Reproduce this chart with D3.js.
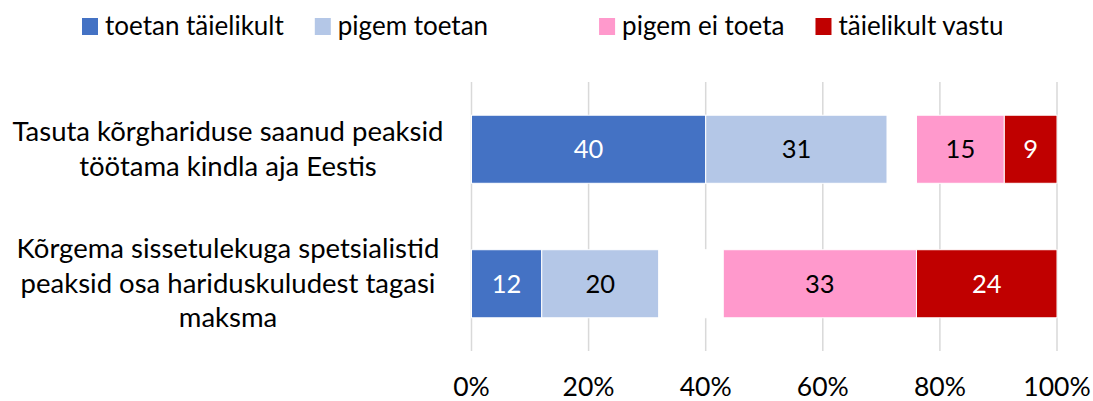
<!DOCTYPE html>
<html>
<head>
<meta charset="utf-8">
<script src="https://cdn.jsdelivr.net/npm/d3@7"></script>
<style>
  body { margin: 0; background: #fff; }
  text { font-family: Lato, "Open Sans", sans-serif; }
</style>
</head>
<body>
<svg id="chart" width="1093" height="401"></svg>
<script>
// data
var categories = [
  "Tasuta kõrghariduse saanud peaksid|töötama kindla aja Eestis",
  "Kõrgema sissetulekuga spetsialistid|peaksid osa hariduskuludest tagasi|maksma"
];
var seriesNames = ["toetan täielikult", "pigem toetan", "", "pigem ei toeta", "täielikult vastu"];
var toetanTaielikult = [40, 12];
var pigemToetan = [31, 20];
var eiOska = [5, 11];          // hidden series (drawn white, not labelled)
var pigemEiToeta = [15, 33];
var taielikultVastu = [9, 24];
var ticks = [0, 0.2, 0.4, 0.6, 0.8, 1];

var colors = ["#4472C4", "#B4C7E7", "#FFFFFF", "#FF99CC", "#C00000"];
var labelColors = ["#fff", "#000", "none", "#000", "#fff"];

var allSeries = [toetanTaielikult, pigemToetan, eiOska, pigemEiToeta, taielikultVastu];
var rows = categories.map(function (c, i) {
  var r = { cat: c };
  allSeries.forEach(function (s, k) { r["s" + k] = s[i] / 100; });
  return r;
});
var keys = allSeries.map(function (s, k) { return "s" + k; });
var stacked = d3.stack().keys(keys)(rows);

var svg = d3.select("#chart");

var x = d3.scaleLinear().domain([0, 1]).range([471.5, 1057]);
var y = d3.scaleBand().domain(categories).range([82, 351])
  .paddingInner(0.494).paddingOuter(0.247);

// gridlines
svg.append("g")
  .selectAll("line")
  .data(ticks)
  .enter().append("line")
    .attr("x1", function (d) { return x(d); })
    .attr("x2", function (d) { return x(d); })
    .attr("y1", 82)
    .attr("y2", 351)
    .attr("stroke", "#d9d9d9")
    .attr("stroke-width", 1.5);

// bars
var layers = svg.append("g")
  .selectAll("g")
  .data(stacked)
  .enter().append("g")
    .attr("fill", function (d, i) { return colors[i]; });

layers.selectAll("rect")
  .data(function (d) { return d; })
  .enter().append("rect")
    .attr("x", function (d) { return x(d[0]); })
    .attr("y", function (d) { return y(d.data.cat); })
    .attr("width", function (d) { return x(d[1]) - x(d[0]); })
    .attr("height", y.bandwidth())
    .attr("stroke", "#fff")
    .attr("stroke-width", 1);

// value labels
layers.each(function (layer, i) {
  if (labelColors[i] === "none") return;
  d3.select(this).selectAll("text")
    .data(layer)
    .enter().append("text")
      .attr("x", function (d) { return (x(d[0]) + x(d[1])) / 2; })
      .attr("y", function (d) { return y(d.data.cat) + y.bandwidth() / 2 + 9; })
      .attr("text-anchor", "middle")
      .attr("font-size", 25.5)
      .attr("fill", labelColors[i])
      .text(function (d) { return Math.round((d[1] - d[0]) * 100); });
});

// category labels
svg.append("g")
  .selectAll("text")
  .data(categories)
  .enter().append("text")
    .attr("text-anchor", "middle")
    .attr("font-size", 27.5)
    .attr("fill", "#000")
    .each(function (d) {
      var lines = d.split("|");
      var cy = y(d) + y.bandwidth() / 2;
      d3.select(this).selectAll("tspan")
        .data(lines)
        .enter().append("tspan")
          .attr("x", 228)
          .attr("y", function (l, j) { return cy + (j - (lines.length - 1) / 2) * 34.5 + 9; })
          .text(function (l) { return l; });
    });

// x axis tick labels
svg.append("g")
  .selectAll("text")
  .data(ticks)
  .enter().append("text")
    .attr("x", function (d) { return x(d); })
    .attr("y", 396)
    .attr("text-anchor", "middle")
    .attr("font-size", 26.5)
    .attr("fill", "#000")
    .text(d3.format(".0%"));

// legend
var legend = svg.append("g");
var lx = 82;
seriesNames.forEach(function (name, i) {
  if (name === "") { lx += 80; return; }
  legend.append("rect")
    .attr("x", lx).attr("y", 18)
    .attr("width", 16).attr("height", 17)
    .attr("fill", colors[i]);
  var t = legend.append("text")
    .attr("x", lx + 23).attr("y", 35)
    .attr("font-size", 26)
    .attr("fill", "#000")
    .text(name);
  lx += 23 + t.node().getComputedTextLength() + 31;
});
</script>
</body>
</html>
